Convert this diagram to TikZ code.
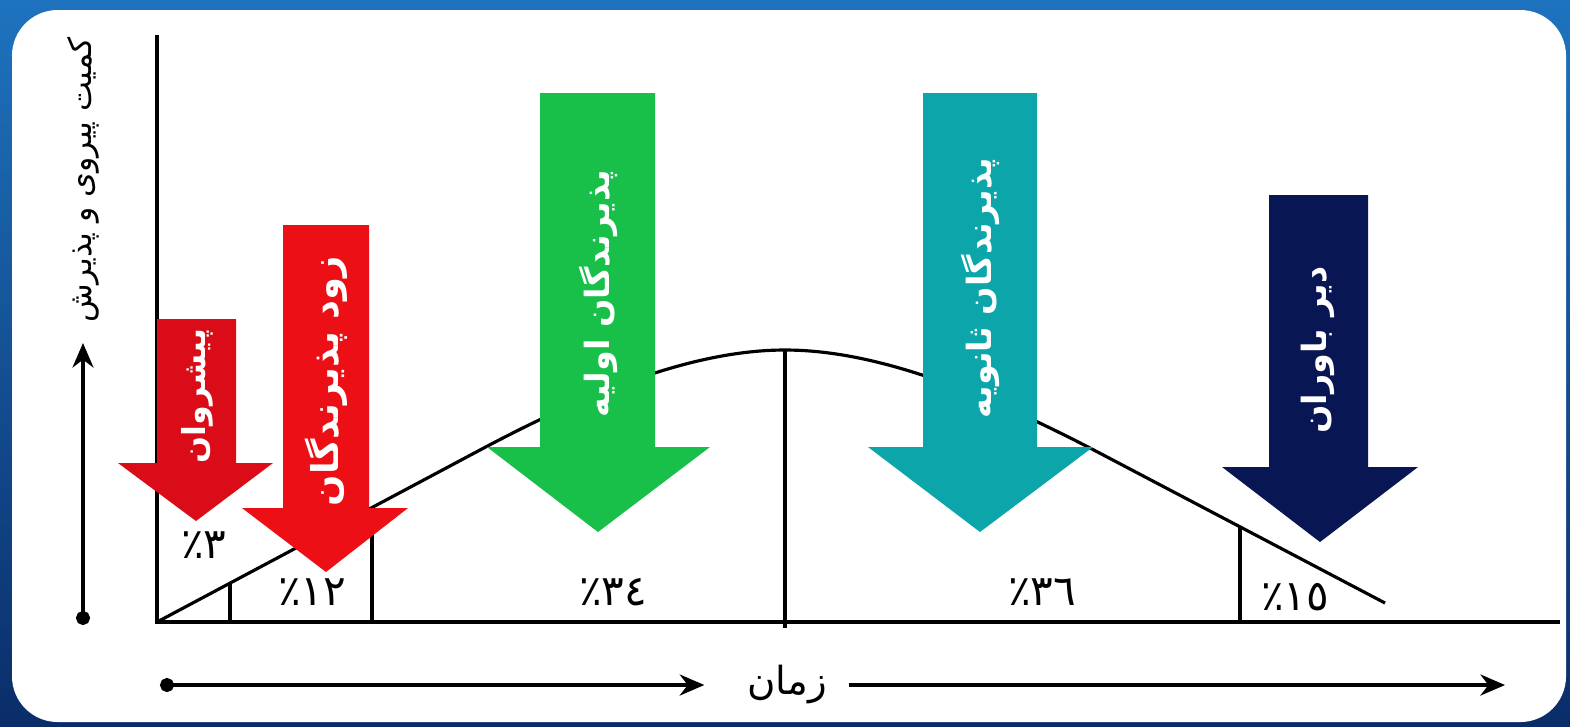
\documentclass[tikz,border=0pt]{standalone}
\usepackage{fontspec}
\newfontfamily\arabicfont[Script=Arabic]{DejaVu Sans}
\TeXXeTstate=1
\usetikzlibrary{arrows.meta,positioning,calc}
\definecolor{bgtop}{RGB}{30,115,190}
\definecolor{bgdark}{RGB}{10,45,105}
\definecolor{redA}{RGB}{218,12,24}
\definecolor{redB}{RGB}{236,16,22}
\definecolor{greenA}{RGB}{24,192,74}
\definecolor{tealA}{RGB}{12,166,170}
\definecolor{navyA}{RGB}{8,22,84}
\tikzset{
    axis/.style       = {draw=black, line width=1pt},
    curve/.style      = {draw=black, line width=0.9pt},
    guide/.style      = {arrows={Circle[length=4pt]-Stealth[length=7pt,width=6pt]}, line width=0.9pt, draw=black},
    guideopen/.style  = {arrows={-Stealth[length=7pt,width=6pt]}, line width=0.9pt, draw=black},
    arrowlabel/.style = {rotate=90, text=white, inner sep=0pt,
            font=\arabicfont\bfseries\fontsize{9.5}{11}\selectfont},
    pct/.style        = {inner sep=0pt, font=\arabicfont\fontsize{12}{14}\selectfont},
    axlabel/.style    = {inner sep=0pt, font=\arabicfont\fontsize{11}{13}\selectfont},
}

\begin{document}
\begin{tikzpicture}[x=0.01cm, y=-0.01cm]
    \useasboundingbox (0,0) rectangle (1570,726);
    % background and panel
    \shade[top color=bgtop, bottom color=bgdark] (0,0) rectangle (1570,726);
    \fill[white, rounded corners=13pt] (12,10) rectangle (1566,722);

    % axes
    \coordinate (O) at (157,622);
    \coordinate (ymax) at (157,35);
    \coordinate (xmax) at (1560,622);
    \draw[curve] (O) -- (480,450) .. controls (600,386) and (700,350) .. (785,350)
        .. controls (870,350) and (970,386) .. (1090,448) -- (1385,603);
    \draw[axis] (230,583) -- (230,622);
    \draw[axis] (372,508) -- (372,622);
    \draw[axis] (785,350) -- (785,628);
    \draw[axis] (1240,527) -- (1240,622);
    \draw[axis] (ymax) |- (xmax);

    % block arrows
    \fill[redA] (157,319) -- (236,319) -- (236,463) -- (273,463) -- (196,521) -- (118,463) -- (157,463) -- cycle;
    \fill[redB] (283,225) -- (369,225) -- (369,508) -- (408,508) -- (326,572) -- (242,508) -- (283,508) -- cycle;
    \fill[greenA] (540,93) -- (655,93) -- (655,447) -- (710,447) -- (598,532) -- (487,447) -- (540,447) -- cycle;
    \fill[tealA] (923,93) -- (1037,93) -- (1037,447) -- (1093,447) -- (980,532) -- (868,447) -- (923,447) -- cycle;
    \fill[navyA] (1269,195) -- (1368,195) -- (1368,467) -- (1418,467) -- (1320,542) -- (1222,467) -- (1269,467) -- cycle;

    % Nodes
    \node[arrowlabel, font=\arabicfont\bfseries\fontsize{9}{11}\selectfont] (pioneers) at (197,396) {\beginR پیشروان\endR};
    \node[arrowlabel, font=\arabicfont\bfseries\fontsize{10.5}{12}\selectfont] (earlyadopt) at (326,381) {\beginR زود پذیرندگان\endR};
    \node[arrowlabel] (earlymaj) at (598,294) {\beginR پذیرندگان اولیه\endR};
    \node[arrowlabel] (latemaj) at (980,288) {\beginR پذیرندگان ثانویه\endR};
    \node[arrowlabel] (laggards) at (1318,350) {\beginR دیر باوران\endR};

    \node[pct] (p3) at (204,545) {\beginR ٣٪\endR};
    \node[pct] (p12) at (312,592) {\beginR\beginL ١٢\endL٪\endR};
    \node[pct] (p34) at (613,592) {\beginR\beginL ٣٤\endL٪\endR};
    \node[pct] (p36) at (1042,592) {\beginR\beginL ٣٦\endL٪\endR};
    \node[pct] (p15) at (1295,597) {\beginR\beginL ١٥\endL٪\endR};

    \node[axlabel, rotate=90, font=\arabicfont\fontsize{9}{11}\selectfont] (quantity) at (83,180) {\beginR کمیت پیروی و پذیرش\endR};
    \node[axlabel] (time) at (787,685) {\beginR زمان\endR};

    % guide arrows
    \coordinate (ybot) at (83,625);
    \coordinate (ytop) at (83,343);
    \coordinate (xstart) at (160,685);
    \coordinate (xend) at (1505,685);
    \draw[guide] (ybot) -- (ytop);
    \draw[guide] (xstart) -- ([xshift=-12pt]time.west);
    \draw[guideopen] ([xshift=6pt]time.east) -- (xend);
\end{tikzpicture}
\end{document}
